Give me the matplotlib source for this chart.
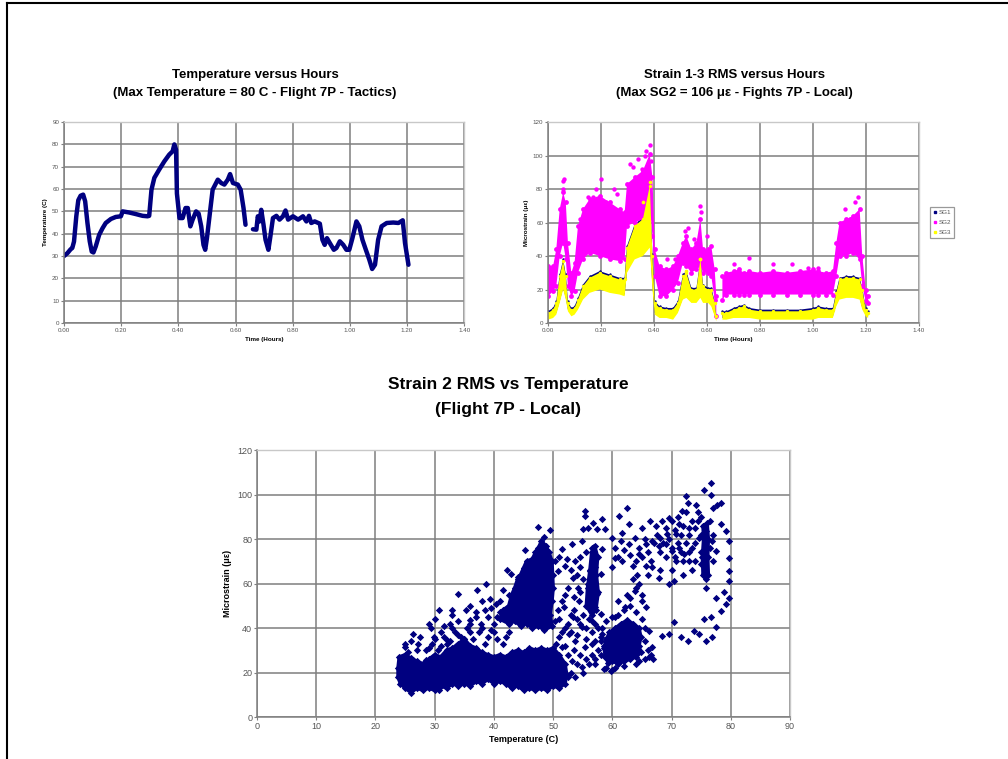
import numpy as np
import matplotlib
matplotlib.use("Agg")
import matplotlib.pyplot as plt
from matplotlib.lines import Line2D

plt.rcParams['font.family'] = ['Liberation Sans', 'DejaVu Sans']

nan = np.nan

# ---- Temperature versus hours
temp_time = [0.0, 0.012, 0.023, 0.029, 0.035, 0.043, 0.05, 0.058, 0.067, 0.074, 0.082, 0.09, 0.097,
             0.103, 0.111, 0.123, 0.135, 0.146, 0.164, 0.181, 0.199, 0.205, 0.228, 0.251, 0.275,
             0.292, 0.298, 0.306, 0.316, 0.333, 0.351, 0.368, 0.38, 0.386, 0.392, 0.395, 0.404,
             0.415, 0.425, 0.433, 0.442, 0.45, 0.462, 0.471, 0.48, 0.488, 0.494, 0.5, 0.509, 0.52,
             0.538, 0.55, 0.561, 0.573, 0.581, 0.591, 0.608, 0.618, 0.628, 0.635, 0.648, 0.661,
             0.673, 0.678, 0.684, 0.69, 0.698, 0.705, 0.715, 0.722, 0.731, 0.743, 0.754, 0.766,
             0.775, 0.784, 0.801, 0.819, 0.836, 0.848, 0.857, 0.865, 0.877, 0.895, 0.904, 0.912,
             0.92, 0.93, 0.944, 0.953, 0.965, 0.977, 0.988, 0.998, 1.009, 1.023, 1.033, 1.044,
             1.056, 1.068, 1.078, 1.088, 1.099, 1.111, 1.129, 1.152, 1.17, 1.185, 1.193, 1.205]
temp_vals = [30, 31.3, 33, 33.6, 36.5, 47.8, 55, 57, 57.5, 54.5, 44.8, 36.6, 32,
             31.6, 34.3, 39.5, 42.5, 44.8, 46.6, 47.5, 47.8, 50, 49.5, 48.8, 48,
             47.8, 48, 59.7, 65, 68.7, 72.4, 75.4, 76.9, 80, 77.6, 58, 47,
             47, 51.5, 51.5, 43.3, 46.3, 50, 49, 43.3, 35, 32.8, 38, 47.8, 59.7,
             64.2, 62.7, 62, 64.2, 66.7, 62.7, 62, 59.7, 51.5, 44, nan, 42,
             41.8, 47.8, 45.5, 50.7, 44, 37.3, 32.8, 38.8, 47, 48, 46.3, 47.8,
             50.4, 46.3, 47.8, 46.3, 47.8, 45.5, 48, 44.8, 45.5, 44.5, 37.3, 35,
             38, 35.8, 32.8, 33.6, 36.6, 35, 32.8, 32.8, 38, 45.5, 43.3, 37.3,
             32.8, 28.4, 24.2, 26.1, 37.3, 43.3, 44.8, 45, 44.8, 46, 35.8, 26.1]

# ---- Strain 1-3 RMS versus hours: band edges (low / high) and SG2 outliers
sg_time = [0.0, 0.019, 0.031, 0.044, 0.057, 0.067, 0.075, 0.088, 0.10, 0.113, 0.132, 0.157, 0.195,
           0.233, 0.27, 0.289, 0.298, 0.327, 0.358, 0.384, 0.394, 0.403, 0.421, 0.447, 0.472,
           0.49, 0.509, 0.522, 0.541, 0.56, 0.575, 0.585, 0.604, 0.616, 0.629, 0.635, 0.646,
           0.658, 0.673, 0.70, 0.72, 0.74, 0.76, 0.80, 0.85, 0.90, 0.95, 1.0, 1.02, 1.05, 1.075,
           1.088, 1.10, 1.126, 1.151, 1.176, 1.186, 1.199, 1.208]
sg1_low = [3, 4, 6, 13, 21, 15, 8, 5, 6, 9, 15, 19, 21, 19, 18, 17, 31, 40, 42, 48, 22, 6, 4, 4, 3,
           7, 15, 16, 13, 13, 16, 13, 13, 11, 5, 2, nan, 3, 3, 4, 4, 4, 4, 3, 3, 3, 3, 3, 4, 4, 4,
           11, 15, 16, 16, 15, 9, 5, 4]
sg1_high = [7, 9, 13, 29, 38, 29, 13, 9, 10, 15, 23, 28, 31, 29, 27, 27, 46, 59, 63, 80, 41, 13, 10,
            9, 9, 13, 29, 31, 21, 21, 38, 23, 21, 21, 13, 5, nan, 7, 7, 9, 10, 11, 9, 8, 8, 8, 8, 9,
            10, 9, 9, 19, 27, 28, 28, 27, 21, 9, 7]
sg2_low = [16, 19, 22, 40, 48, 38, 22, 16, 19, 30, 38, 42, 40, 38, 37, 38, 58, 60, 62, 70, 52, 28,
           16, 16, 20, 24, 36, 34, 30, 32, 34, 30, 30, 28, 14, 4, nan, 14, 17, 17, 17, 17, 17, 17,
           17, 17, 17, 17, 17, 17, 17, 28, 40, 40, 42, 38, 22, 13, 12]
sg2_high = [34, 34, 44, 68, 78, 72, 48, 30, 36, 58, 68, 74, 76, 72, 68, 66, 83, 87, 91, 101, 87, 44,
            34, 32, 34, 40, 48, 52, 44, 48, 62, 44, 44, 46, 32, 16, nan, 28, 30, 31, 32, 30, 31, 30,
            31, 30, 31, 32, 31, 30, 31, 48, 60, 62, 64, 68, 40, 20, 16]
sg3_low = [2, 3, 5, 12, 20, 14, 7, 4, 5, 8, 14, 18, 20, 18, 17, 16, 30, 38, 40, 45, 20, 5, 3, 3, 2,
           6, 14, 15, 12, 12, 15, 12, 12, 10, 4, 1, nan, 2, 2, 3, 3, 3, 3, 2, 2, 2, 2, 2, 3, 3, 3,
           10, 14, 15, 15, 14, 8, 4, 3]
sg3_high = [6, 8, 12, 28, 37, 28, 12, 8, 9, 14, 22, 27, 30, 28, 26, 26, 45, 58, 62, 82, 40, 12, 9,
            8, 8, 12, 28, 30, 20, 20, 38, 22, 20, 20, 12, 4, nan, 6, 6, 8, 9, 10, 8, 7, 7, 7, 7, 8,
            9, 8, 8, 18, 26, 27, 27, 26, 20, 8, 6]
sg2_out_t = [0.055, 0.058, 0.062, 0.12, 0.15, 0.17, 0.18, 0.2, 0.22, 0.25, 0.26, 0.31, 0.32, 0.34,
             0.355, 0.365, 0.37, 0.385, 0.39, 0.45, 0.48, 0.515, 0.53, 0.55, 0.575, 0.578, 0.60,
             0.70, 0.76, 0.85, 0.92, 0.98, 1.02, 1.12, 1.14, 1.16, 1.17]
sg2_out_v = [80, 85, 86, 62, 75, 75, 80, 86, 72, 80, 77, 95, 93, 98, 92, 100, 103, 106, 97, 38,
             38, 55, 57, 50, 70, 66, 52, 35, 39, 35, 35, 33, 33, 68, 62, 72, 75]
sg3_out_t = [0.36, 0.385, 0.52, 0.575]
sg3_out_v = [72, 84, 31, 38]

# ---- Strain 2 RMS vs temperature: dense clusters (outlines) and loose points
cluster_a_x = [23.8, 24, 25, 26, 27, 28, 29, 30, 31, 32, 33, 34, 35, 36, 37, 38, 39, 40, 41, 42,
               43, 44, 45, 46, 47, 48, 49, 50, 51, 52, 52.3,
               52, 51, 50, 49, 48, 47, 46, 45, 44, 43, 42, 41, 40, 39, 38, 37, 36, 35, 34, 33,
               32, 31, 30, 29, 28, 27, 26, 25, 24.2, 23.8]
cluster_a_y = [22, 27, 28, 26.5, 25, 24, 26, 28, 27, 30, 31, 33, 35, 32, 31, 29, 28, 27, 28, 27,
               29, 30, 29, 31, 30, 31, 30, 31, 28, 24, 19,
               15, 13, 14, 12, 13, 12, 13, 12, 14, 13, 15, 16, 15, 17, 15, 16, 14, 15, 14, 15,
               13, 14, 12, 13, 12, 13, 11, 13, 15, 18]
cluster_b_x = [41, 41.5, 42.5, 43, 43.5, 44, 44.5, 45, 45.5, 46.5, 47, 47.5, 48, 48.8, 49.3, 49.8,
               49.9, 50, 49.8, 49.5, 49.8, 48.5, 47.5, 46.5, 45.5, 44.5, 43.5, 42.5]
cluster_b_y = [44, 48, 50, 55, 58, 62, 64, 67, 70, 71, 74, 76, 79, 77, 74, 70,
               64, 58, 52, 46, 41, 39, 41, 40, 42, 41, 43, 42]
cluster_c_x = [58.8, 58.6, 59, 59.5, 60.5, 61.5, 62.5, 63.5, 64.5, 64.8, 64.5, 64.8, 64, 63, 62,
               61, 60, 59.3]
cluster_c_y = [27, 31, 35, 38, 40, 42, 43.5, 42, 40, 36, 32, 29, 27, 26, 25, 24, 25, 24.5]
cluster_e_x = [75.3, 75.2, 75.4, 75.3, 76, 76.2, 76.1, 76.2, 75.8]
cluster_e_y = [64, 72, 80, 86, 87, 80, 72, 64, 62]
cluster_f_x = [55.6, 55.8, 56.2, 56.5, 57, 57.5, 57.3, 57.6, 57.2, 56.5]
cluster_f_y = [50, 58, 66, 74, 77, 72, 64, 56, 48, 46]

loose_x = [26.4, 27.1, 28.6, 29.3, 30.8, 31.5, 33, 34, 32.1, 29.9, 24.9, 26.4, 28, 30.8, 35.2,
           35.9, 37.1, 37.8, 38.7, 39.3, 40.3, 41.5, 42.2, 42.8, 44, 45.3, 47.5, 49.4, 48.5,
           33, 34, 36, 37, 38, 39, 40, 41, 36, 38, 34, 31, 35, 39, 32, 40, 42, 27, 25.5, 29, 30.5,
           55.4, 55.4, 58.2, 56.8, 55.9, 55.1, 57.4, 58.8, 53.2, 54.9, 56.6, 58.2, 51.5, 50.3,
           52.3, 53.7, 54.6, 56.3, 57.1, 58, 50.9, 53.3, 52.5, 54.2, 55.8, 56, 57.4, 54.3, 56,
           57.1, 58, 56.6, 54.9, 53.4, 51.8, 50.3, 52.6, 53.7, 55.4, 57.1, 58.2, 51.5, 53.2,
           54.9, 53.7, 57.1, 58.5, 59.7, 59.9, 60.5, 62.2, 63, 63.9, 64.5, 65, 65.6, 66.2, 66.7,
           66.2, 64.5, 62.5, 61.1, 62.8, 61.6, 59.9, 60.5, 59.9, 61.6, 62.8, 63.9, 65, 66.4,
           67.3, 68.4, 69.5, 71.8, 72.4, 72.7, 74.1, 75.5, 76.6, 76.6, 77.7, 78.3, 78.3, 79.2,
           79.7, 79.7, 79.7, 79.7, 79.7, 79.2, 78.3, 77.5, 76.9, 75.8, 74.6, 73.8, 72.7, 71.5,
           70.4, 69.5, 68.4, 75.5, 76.6, 77.5, 78.9, 69.5, 70.4, 75.8, 75.5, 65.6, 66.7, 67.9,
           64.5, 65.6, 66.7, 67.9, 69, 70.1, 71.2, 72.1, 73.5, 74.6, 75.8, 76.9, 77.5, 70.7,
           72.9, 74.9, 74.4, 73, 71.2, 70.7, 69.3, 68.1,
           # above the low band
           28.5, 29.5, 30, 31, 31.5, 32.5, 33.5, 34.5, 35.5, 36.5, 37.5, 38.5, 39.5, 40.5, 41.5,
           42.5, 36, 37, 38.5, 39.5, 40.5, 41, 42, 42.5, 43, 33, 32.5, 30, 29, 27.5, 26, 25,
           # between the clusters
           50.5, 51, 51.5, 52, 52.5, 53, 53.5, 54, 54.5, 55, 55.5, 56, 56.5, 57, 57.5, 58, 58.5,
           57.5, 56.5, 55.5, 54.5, 53.5, 52.5, 52, 53, 52.5, 54, 55, 56, 57, 58, 59, 60, 55.5,
           56.5, 54, 53, 51, 50.8, 51.5, 52, 53.5, 54.5, 55, 54, 53, 52, 51, 54.5, 55.5,
           # upper right group
           64, 64.5, 65, 65.5, 66, 66.5, 67, 67.5, 68, 68.5, 69, 69, 69.5, 70, 70, 70.5, 70.5,
           71, 71, 71.5, 71.5, 72, 72, 72.5, 72.5, 73, 73, 73.5, 74, 74, 74, 74.5, 75, 75, 75,
           76.5, 76.5, 77, 77, 77, 68, 70, 72, 73.5, 66, 64.2, 63.5, 63, 62, 61, 60.5, 61.5,
           # around the 60-65 C group
           58, 58.2, 59, 60, 61, 62, 63, 64, 65, 65.5, 65.5, 66, 66.5, 66.8, 65.5, 64, 62, 60.5,
           61, 62.5, 64, 63.5, 65]
loose_y = [37.5, 33, 25.5, 39.8, 48, 41, 45.7, 55.5, 34.5, 36, 31.5, 25.5, 21, 12, 48,
           43.5, 57, 42, 60, 53, 51, 57, 66, 64.5, 63, 75, 85.5, 84, 81,
           40, 37, 38, 45, 40, 45, 42, 47, 50, 52, 43, 38, 35, 36, 33, 38, 36, 30, 29, 31, 30,
           92.5, 90.3, 88.8, 87.3, 85, 84.3, 84.3, 84.3, 77.6, 79.1, 76.1, 75.4, 75.4, 70,
           70.9, 70, 67.2, 65.7, 67.2, 64.2, 65.7, 62.7, 58.2, 58.2, 59.7, 58.2, 55.2, 52.2, 50.7,
           49.3, 46.3, 43.3, 40.3, 44.8, 49.3, 43.3, 37.3, 34.3, 31.3, 34.3, 37.3, 31.3, 25.4,
           22.4, 17.9, 23.9, 21.6, 20.9, 38, 44.8, 49.3, 53.7, 56.7, 59.7, 52.2, 49.3, 38.8, 31.3,
           26.9, 25.4, 94, 90.3, 86.6, 82.8, 80.6, 71.6, 67.2, 70.1, 77.6, 80.6, 85, 88,
           85.8, 88, 89.6, 92.5, 99.3, 96.3, 95.5, 102.2, 105.2, 100, 95.5, 96.3, 86.6, 83.6,
           79.1, 71.6, 65.7, 61.2, 53.7, 50.7, 47.8, 40.3, 35.8, 34.3, 37.3, 38.8, 34.3, 35.8,
           42.5, 37.3, 36.6, 44, 44.8, 53.7, 56, 59.7, 61.2, 58.2, 64.2, 67.9, 67.2, 62.7,
           73.1, 77.6, 79.1, 76.9, 77.6, 74.6, 76.1, 73.1, 76.1, 80.6, 83.6, 79.1, 74.6, 70.1,
           70.1, 68.7, 88, 85, 86.6, 82.1, 82.1, 80.6,
           30, 33, 35, 32, 36, 34, 38, 36, 40, 35, 38, 33, 39, 35, 33,
           38, 42, 47, 48, 49, 45, 52, 46, 55, 51, 48, 42, 44, 42, 36, 34, 33,
           33, 36, 38, 40, 42, 46, 48, 44, 42, 46, 40, 44, 38, 42, 40, 36, 32,
           30, 28, 26, 28, 30, 28, 32, 20, 18, 24, 20, 24, 26, 28, 22, 21, 35,
           33, 37, 38, 44, 48, 52, 55, 54, 56, 62, 64, 66, 68, 72, 72, 74,
           70, 76, 72, 80, 74, 70, 78, 82, 74, 78, 72, 85, 80, 76, 88, 72, 84,
           78, 90, 74, 82, 70, 86, 78, 92, 74, 82, 88, 70, 78, 85, 92, 74, 82, 90,
           76, 88, 70, 82, 94, 66, 66, 64, 66, 64, 64, 68, 73, 75, 72, 76, 79,
           34, 40, 43, 45, 46, 48, 50, 47, 44, 40, 34, 30, 28, 26, 26, 24, 23, 22,
           52, 55, 58, 62, 55]

navy = '#000080'
magenta = '#ff00ff'
yellow = '#ffff00'
grid_c = '#7f7f7f'
tick_c = '#555555'


def style_axes(ax, fs):
    ax.set_facecolor('white')
    ax.grid(True, color=grid_c, linewidth=1.1)
    ax.set_axisbelow(True)
    for s in ['left', 'bottom']:
        ax.spines[s].set_color(grid_c)
        ax.spines[s].set_linewidth(1.1)
    for s in ['top', 'right']:
        ax.spines[s].set_color('#c8c8c8')
        ax.spines[s].set_linewidth(1.0)
    ax.tick_params(direction='out', length=2, width=0.8, colors=grid_c, labelsize=fs,
                   labelcolor=tick_c, pad=1.5)


fig = plt.figure(figsize=(10.08, 7.59), dpi=100)

# page border
fig.add_artist(Line2D([0.007, 1.0], [0.996, 0.996], color='black', lw=1.5, transform=fig.transFigure))
fig.add_artist(Line2D([0.007, 0.007], [0.0, 0.996], color='black', lw=1.5, transform=fig.transFigure))

# ---- Top left: temperature
ax1 = fig.add_axes([0.0635, 0.5744, 0.397, 0.2648])
style_axes(ax1, 4.5)
ax1.plot(temp_time, temp_vals, color=navy, lw=3.2, solid_joinstyle='round', solid_capstyle='round')
ax1.set_xlim(0, 1.4)
ax1.set_ylim(0, 90)
ax1.set_xticks(np.arange(0, 1.41, 0.2))
ax1.set_xticklabels(['%.2f' % v for v in np.arange(0, 1.41, 0.2)])
ax1.set_yticks(np.arange(0, 91, 10))
ax1.set_xlabel('Time (Hours)', fontsize=4.5, fontweight='bold', labelpad=3)
ax1.set_ylabel('Temperature (C)', fontsize=4.5, fontweight='bold', labelpad=3)
fig.text(0.253, 0.901, 'Temperature versus Hours', ha='center', va='center',
         fontsize=9.5, fontweight='bold')
fig.text(0.253, 0.877, '(Max Temperature = 80 C - Flight 7P - Tactics)', ha='center', va='center',
         fontsize=9.5, fontweight='bold')

# ---- Top right: strain 1-3
ax2 = fig.add_axes([0.5437, 0.5744, 0.368, 0.2648])
style_axes(ax2, 4.5)
ax2.fill_between(sg_time, sg1_low, sg1_high, color=navy, lw=0)
ax2.scatter(sg_time, sg1_high, s=3, color=navy, lw=0)
ax2.fill_between(sg_time, sg2_low, sg2_high, color=magenta, lw=0)
ax2.scatter(sg_time, sg2_high, s=12, color=magenta, lw=0)
ax2.scatter(sg_time, sg2_low, s=12, color=magenta, lw=0)
ax2.scatter(sg2_out_t, sg2_out_v, s=10, color=magenta, lw=0)
ax2.fill_between(sg_time, sg3_low, sg3_high, color=yellow, lw=0)
ax2.scatter(sg_time, sg3_high, s=6, color=yellow, lw=0)
ax2.scatter(sg3_out_t, sg3_out_v, s=7, color=yellow, lw=0)
ax2.set_xlim(0, 1.4)
ax2.set_ylim(0, 120)
ax2.set_xticks(np.arange(0, 1.41, 0.2))
ax2.set_xticklabels(['%.2f' % v for v in np.arange(0, 1.41, 0.2)])
ax2.set_yticks(np.arange(0, 121, 20))
ax2.set_xlabel('Time (Hours)', fontsize=4.5, fontweight='bold', labelpad=3)
ax2.set_ylabel('Microstrain (\u03bc\u03b5)', fontsize=4.5, fontweight='bold', labelpad=3)
h = [Line2D([], [], ls='none', marker='s', ms=2, color=c) for c in (navy, magenta, yellow)]
leg = ax2.legend(h, ['SG1', 'SG2', 'SG3'], loc='center left', bbox_to_anchor=(1.03, 0.5),
                 fontsize=4.5, frameon=True, fancybox=False, handlelength=0.6, handletextpad=0.3,
                 borderpad=0.5, labelspacing=0.75, borderaxespad=0)
leg.get_frame().set_edgecolor('#808080')
leg.get_frame().set_linewidth(0.9)
for t in leg.get_texts():
    t.set_color('#555555')
fig.text(0.729, 0.901, 'Strain 1-3 RMS versus Hours', ha='center', va='center',
         fontsize=9.5, fontweight='bold')
fig.text(0.729, 0.877, '(Max SG2 = 106 \u03bc\u03b5 - Fights 7P - Local)', ha='center', va='center',
         fontsize=9.5, fontweight='bold')

# ---- Bottom: strain 2 vs temperature
ax3 = fig.add_axes([0.255, 0.0553, 0.5288, 0.3518])
style_axes(ax3, 6.5)
for cx, cy in [(cluster_a_x, cluster_a_y), (cluster_b_x, cluster_b_y), (cluster_c_x, cluster_c_y),
               (cluster_e_x, cluster_e_y), (cluster_f_x, cluster_f_y)]:
    ax3.fill(cx, cy, color=navy, lw=2.5, ec=navy, joinstyle='round')
    ax3.scatter(cx, cy, s=14, marker='D', color=navy, lw=0)
ax3.scatter(loose_x, loose_y, s=14, marker='D', color=navy, lw=0)
ax3.set_xlim(0, 90)
ax3.set_ylim(0, 120)
ax3.set_xticks(np.arange(0, 91, 10))
ax3.set_yticks(np.arange(0, 121, 20))
ax3.set_xlabel('Temperature (C)', fontsize=6.5, fontweight='bold', labelpad=3)
ax3.set_ylabel('Microstrain (\u03bc\u03b5)', fontsize=6.5, fontweight='bold', labelpad=4)
fig.text(0.504, 0.493, 'Strain 2 RMS vs Temperature', ha='center', va='center',
         fontsize=12.5, fontweight='bold')
fig.text(0.504, 0.460, '(Flight 7P - Local)', ha='center', va='center',
         fontsize=12.5, fontweight='bold')

fig.savefig('out.png', dpi=100)
